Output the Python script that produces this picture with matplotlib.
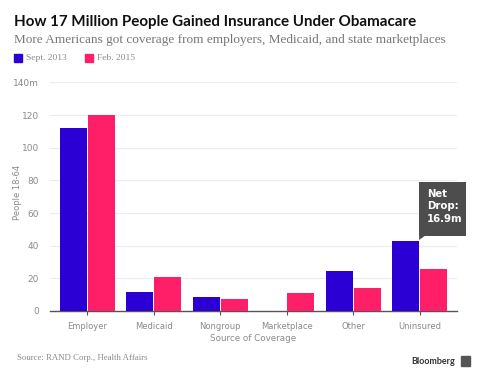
import matplotlib
matplotlib.use("Agg")
import matplotlib.pyplot as plt
import numpy as np
from matplotlib.patches import Polygon

categories = ["Employer", "Medicaid", "Nongroup", "Marketplace", "Other", "Uninsured"]
sept_2013 = [112.0, 11.8, 8.8, 0.0, 24.5, 42.9]
feb_2015 = [120.0, 21.0, 7.2, 11.2, 14.3, 26.0]
y_ticks = [0, 20, 40, 60, 80, 100, 120, 140]
y_tick_labels = ["0", "20", "40", "60", "80", "100", "120", "140m"]

BLUE = "#2a00d5"
PINK = "#ff1f68"
GREY = "#8a8a8a"

W, H = 488, 384
fig = plt.figure(figsize=(W / 100, H / 100), dpi=100)
fig.patch.set_facecolor("white")

# axes in pixel coords
x0, x1 = 50, 457
y_zero, y_top = 311, 82.4
ax = fig.add_axes([x0 / W, (H - y_zero) / H, (x1 - x0) / W, (y_zero - y_top) / H])

x = np.arange(len(categories))
bw = 0.40
off = 0.21
ax.bar(x - off, sept_2013, bw, color=BLUE, zorder=3)
ax.bar(x + off, feb_2015, bw, color=PINK, zorder=3)

ax.set_xlim(-0.56, len(categories) - 0.44)
ax.set_ylim(0, 140)
ax.set_yticks(y_ticks)
ax.set_yticklabels(y_tick_labels)
ax.set_xticks(x)
ax.set_xticklabels(categories)
ax.grid(axis="y", color="#ececec", linewidth=0.8, zorder=0)
for s in ["top", "right", "left"]:
    ax.spines[s].set_visible(False)
ax.spines["bottom"].set_color("#555555")
ax.spines["bottom"].set_linewidth(1.0)
ax.tick_params(axis="y", length=0, pad=8, labelsize=6.5, labelcolor=GREY)
ax.tick_params(axis="x", length=3, width=0.8, color="#555555", pad=5,
               labelsize=6, labelcolor=GREY)
ax.set_ylabel("People 18-64", fontsize=6, color=GREY)
ax.yaxis.set_label_coords(-(50 - 22) / (x1 - x0), 0.52)
ax.set_xlabel("Source of Coverage", fontsize=6.3, color=GREY, labelpad=2)

# tooltip box above uninsured
ui = categories.index("Uninsured")
bx0 = ui - off + bw / 2
bx1 = bx0 + 0.70
by0, by1 = sept_2013[ui] + 3.2, sept_2013[ui] + 36.0
ax.add_patch(plt.Rectangle((bx0, by0), bx1 - bx0, by1 - by0,
                           facecolor="#4d4d4d", edgecolor="none",
                           zorder=5, clip_on=False))
ax.add_patch(Polygon([[bx0, by0], [bx0 + 0.09, by0], [bx0, by0 - 2.6]],
                     closed=True, facecolor="#4d4d4d", edgecolor="none",
                     zorder=5, clip_on=False))
ax.text(bx0 + 0.115, by1 - 4.2, "Net\nDrop:\n16.9m", color="white",
        fontsize=7.3, fontweight="bold", va="top", ha="left", linespacing=1.3,
        zorder=6)

# header
fig.text(14 / W, 1 - 22 / H, "How 17 Million People Gained Insurance Under Obamacare",
         fontsize=10.9, fontweight="bold", color="#111111", va="center",
         family="Lato")
fig.text(14 / W, 1 - 39.5 / H,
         "More Americans got coverage from employers, Medicaid, and state marketplaces",
         fontsize=9.5, color="#777777", va="center", family="Liberation Serif")

# legend
for lx, col, txt in [(14, BLUE, "Sept. 2013"), (85, PINK, "Feb. 2015")]:
    fig.patches.append(plt.Rectangle((lx / W, 1 - 62 / H), 8 / W, 8 / H,
                                     transform=fig.transFigure, color=col))
    fig.text((lx + 12) / W, 1 - 58.5 / H, txt, fontsize=6.8, color=GREY,
             va="center", family="Liberation Serif")

# footer
fig.text(17 / W, 1 - 358 / H, "Source: RAND Corp., Health Affairs",
         fontsize=6.3, color=GREY, va="center", family="Liberation Serif")
fig.text(455 / W, 1 - 361 / H, "Bloomberg", fontsize=6.5, fontweight="bold",
         color="#333333", va="center", ha="right", family="Lato")
fig.patches.append(plt.Rectangle((461 / W, 1 - 366 / H), 9 / W, 10 / H,
                                 transform=fig.transFigure, color="#555555"))

fig.savefig("out.png", dpi=100)
